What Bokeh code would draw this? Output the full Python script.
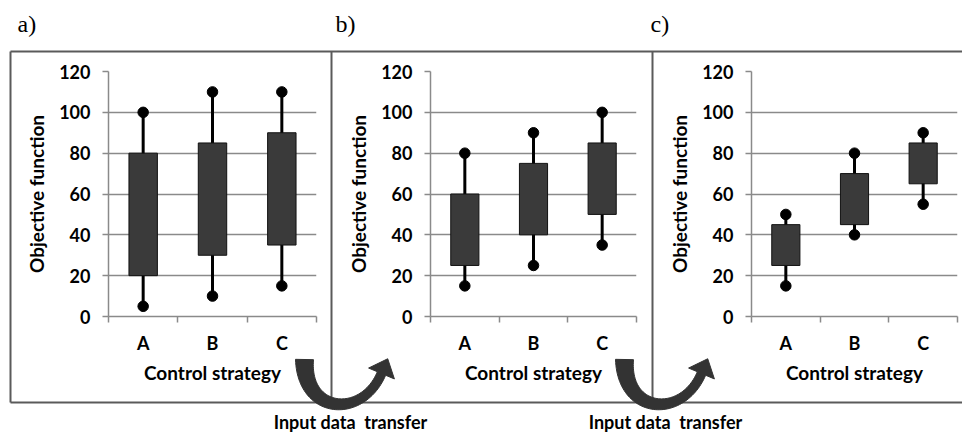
import numpy as np
from bokeh.plotting import figure
from bokeh.models import Range1d, FixedTicker, GridBox, ColumnDataSource
from bokeh.core.properties import value
from bokeh.embed import file_html
from bokeh.resources import INLINE

# ---------------- data ----------------
categories = ["A", "B", "C"]
panel_labels = ["a)", "b)", "c)"]
y_ticks = [0, 20, 40, 60, 80, 100, 120]
x_title = "Control strategy"
y_title = "Objective function"
transfer_label = "Input data  transfer"

a_min = [5, 10, 15]
a_q1 = [20, 30, 35]
a_q3 = [80, 85, 90]
a_max = [100, 110, 110]

b_min = [15, 25, 35]
b_q1 = [25, 40, 50]
b_q3 = [60, 75, 85]
b_max = [80, 90, 100]

c_min = [15, 40, 55]
c_q1 = [25, 45, 65]
c_q3 = [45, 70, 85]
c_max = [50, 80, 90]

# ---------------- style ----------------
FONT = "Lato"
GRID = "#8a8a8a"
BOXC = "#3a3a3a"
H = 438
W = 962


def make_panel(wmin, q1, q3, wmax, width, left, right):
    p = figure(width=width, height=H, x_range=Range1d(0.5, 3.5), y_range=Range1d(0, 120),
               output_backend="svg", toolbar_location=None,
               min_border_left=left, min_border_right=right,
               min_border_top=71, min_border_bottom=122)
    p.frame_align = False
    p.background_fill_color = None
    p.border_fill_color = None
    p.outline_line_color = None
    pos = [i + 1 for i in range(len(categories))]
    src = ColumnDataSource(dict(x=pos, lo=wmin, q1=q1, q3=q3, hi=wmax))
    p.segment(x0="x", y0="lo", x1="x", y1="hi", source=src, line_color="black", line_width=3)
    p.vbar(x="x", bottom="q1", top="q3", width=0.41, source=src,
           fill_color=BOXC, line_color="#111111", line_width=1)
    p.scatter(x="x", y="lo", source=src, size=10.5, color="black")
    p.scatter(x="x", y="hi", source=src, size=10.5, color="black")

    xa = p.xaxis[0]
    xa.ticker = FixedTicker(ticks=pos, minor_ticks=[0.5, 1.5, 2.5, 3.5])
    xa.major_label_overrides = {i + 1: c for i, c in enumerate(categories)}
    xa.axis_line_color = GRID
    xa.axis_line_width = 1.5
    xa.major_tick_line_color = None
    xa.major_tick_out = 0
    xa.major_tick_in = 0
    xa.minor_tick_line_color = GRID
    xa.minor_tick_line_width = 1.5
    xa.minor_tick_out = 6
    xa.minor_tick_in = 0
    xa.major_label_text_font = FONT
    xa.major_label_text_font_size = "18px"
    xa.major_label_text_font_style = "bold"
    xa.major_label_text_color = "black"
    xa.major_label_standoff = 9
    xa.axis_label = x_title
    xa.axis_label_text_font = FONT
    xa.axis_label_text_font_size = "19px"
    xa.axis_label_text_font_style = "bold"
    xa.axis_label_text_color = "black"
    xa.axis_label_standoff = 4

    ya = p.yaxis[0]
    ya.ticker = FixedTicker(ticks=y_ticks, minor_ticks=[])
    ya.axis_line_color = GRID
    ya.axis_line_width = 1.5
    ya.major_tick_line_color = GRID
    ya.major_tick_line_width = 1.5
    ya.major_tick_out = 6
    ya.major_tick_in = 0
    ya.minor_tick_line_color = None
    ya.major_label_text_font = FONT
    ya.major_label_text_font_size = "18px"
    ya.major_label_text_font_style = "bold"
    ya.major_label_text_color = "black"
    ya.major_label_standoff = 12
    ya.axis_label = y_title
    ya.axis_label_text_font = FONT
    ya.axis_label_text_font_size = "19px"
    ya.axis_label_text_font_style = "bold"
    ya.axis_label_text_color = "black"
    ya.axis_label_standoff = 8

    p.xgrid.visible = False
    p.ygrid.grid_line_color = GRID
    p.ygrid.grid_line_width = 1.5
    return p


fa = make_panel(a_min, a_q1, a_q3, a_max, 331, 108, 15)
fb = make_panel(b_min, b_q1, b_q3, b_max, 320, 99, 15)
fc = make_panel(c_min, c_q1, c_q3, c_max, 311, 100, 5)

# ---------------- overlay: frame box, labels, arrows ----------------
ov = figure(width=W, height=H, x_range=Range1d(0, W), y_range=Range1d(H, 0),
            x_axis_type=None, y_axis_type=None, output_backend="svg",
            toolbar_location=None, min_border=0)
ov.frame_align = False
ov.background_fill_color = None
ov.border_fill_color = None
ov.outline_line_color = None
ov.xgrid.visible = False
ov.ygrid.visible = False

ov.multi_line(xs=[[10, W], [10, W], [10, 10], [331, 331], [652, 652]],
              ys=[[51, 51], [402, 402], [51, 402], [51, 402], [51, 402]],
              line_color="#5a5a5a", line_width=2)


def arrow(shift):
    P = np.array([[304, 359], [303, 414], [362, 418], [381, 373]], dtype=float)
    P = P + np.array([shift, 0])
    t = np.linspace(0, 1, 60)[:, None]
    B = (1 - t) ** 3 * P[0] + 3 * (1 - t) ** 2 * t * P[1] + 3 * (1 - t) * t ** 2 * P[2] + t ** 3 * P[3]
    D = 3 * (1 - t) ** 2 * (P[1] - P[0]) + 6 * (1 - t) * t * (P[2] - P[1]) + 3 * t ** 2 * (P[3] - P[2])
    D = D / np.linalg.norm(D, axis=1)[:, None]
    N = np.column_stack([-D[:, 1], D[:, 0]])
    hw = 4.5 + 4.5 * (1 - t) ** 2
    L = B + N * hw
    R = B - N * hw
    d = D[-1]
    n = N[-1]
    head = [P[3] + n * 14, P[3] + d * 16, P[3] - n * 14]
    pts = np.vstack([L, head, R[::-1]])
    return list(pts[:, 0]), list(pts[:, 1])


ax1, ay1 = arrow(0)
ax2, ay2 = arrow(320)
ov.patches(xs=[ax1, ax2], ys=[ay1, ay2], fill_color="#333333", line_color="#333333", line_width=1)

ov.text(x=[17, 335, 650], y=[23, 23, 23], text=panel_labels,
        text_font=value("Liberation Serif"), text_font_size="24px",
        text_color="black", text_baseline="middle", text_align="left")
shown = transfer_label.replace("  ", " \u00a0")
ov.text(x=[350, 665], y=[421, 421], text=[shown, shown],
        text_font=value(FONT), text_font_size="18px", text_font_style="bold",
        text_color="black", text_baseline="middle", text_align="center")

layout = GridBox(children=[(fa, 0, 0), (fb, 0, 1), (fc, 0, 2), (ov, 0, 0, 1, 3)], spacing=0)

open("out.html", "w").write(file_html(layout, INLINE))
